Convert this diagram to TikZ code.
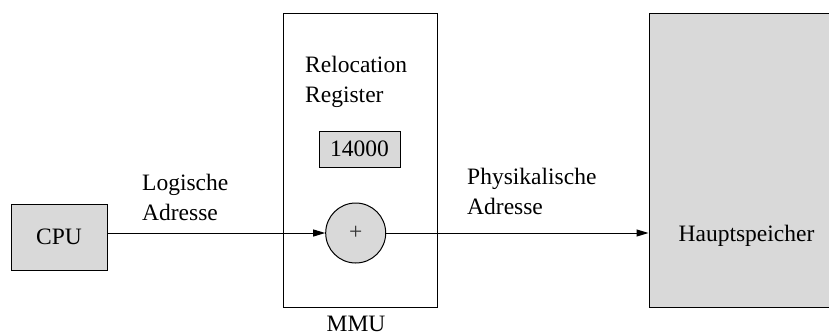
\documentclass[tikz,border=0pt]{standalone}
\usepackage{fontspec}
\setmainfont{Liberation Serif}
\usetikzlibrary{arrows.meta}
\definecolor{boxgray}{RGB}{217,217,217}
\begin{document}
\begin{tikzpicture}[x=1pt,y=-1pt,
  every node/.style={font=\fontsize{23.5}{30}\selectfont},
  unit/.style={draw=black, line width=1pt, inner sep=0pt},
  shaded/.style={unit, fill=boxgray},
  caption/.style={align=left, anchor=north west, inner sep=0pt},
  conn/.style={line width=1pt, -{Triangle[length=12pt,width=7pt]}}]
\useasboundingbox (0,0) rectangle (829,335);
\clip (0,0) rectangle (829,335);

% processor
\node[shaded, minimum width=96pt, minimum height=66pt] (cpu) at (59,237) {CPU};

% memory management unit with its relocation register and adder
\node[unit, minimum width=154pt, minimum height=294pt] (mmu) at (360,160) {};
\node[anchor=base, inner sep=0pt] (mmulabel) at (356,331) {MMU};
\node[caption] (reglabel) at (305,56) {Relocation\\Register};
\node[shaded, minimum width=81pt, minimum height=36pt] (reg) at (359.5,149) {14000};
\node[shaded, circle, minimum size=60pt] (plus) at (355.7,233) {\textcolor{black!80}{+}};

% main memory
\node[shaded, minimum width=195pt, minimum height=294pt] (mem) at (746.5,160) {};
\node[anchor=base, inner sep=0pt] (memlabel) at (746.5,241) {Hauptspeicher};

% address paths
\draw[conn] (cpu.east |- plus.west) -- (plus.west);
\draw[conn] (plus.east) -- (mem.west |- plus.east);
\node[caption] (logaddr) at (142,174) {Logische\\Adresse};
\node[caption] (physaddr) at (467,168) {Physikalische\\Adresse};
\end{tikzpicture}
\end{document}
